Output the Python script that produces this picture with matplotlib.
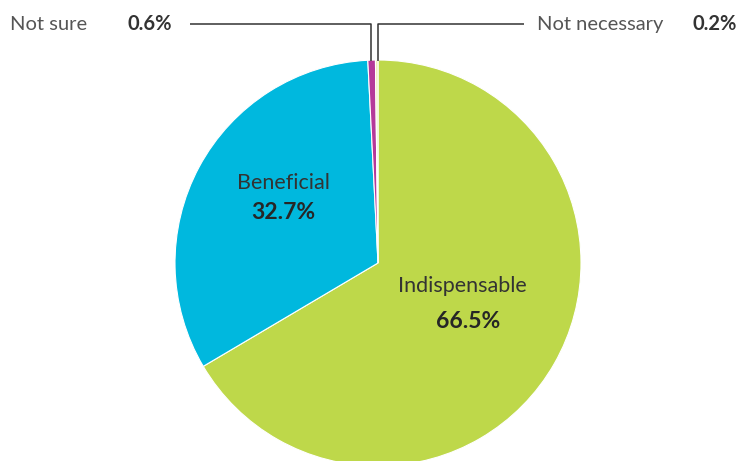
import matplotlib.pyplot as plt

labels = ["Indispensable", "Beneficial", "Not sure", "Not necessary"]
shares = [66.5, 32.7, 0.6, 0.2]
colors = ["#bed84a", "#00b8de", "#b5399a", "#f3ebb8"]

plt.rcParams["font.family"] = ["Lato", "DejaVu Sans"]

W, H = 739, 461
fig = plt.figure(figsize=(W / 100, H / 100), dpi=100)
ax = fig.add_axes([0, 0, 1, 1])

cx, cy, r = 378, H - 263, 203
ax.pie(shares, colors=colors, startangle=90, counterclock=False,
       center=(cx, cy), radius=r, frame=True,
       wedgeprops=dict(edgecolor="white", linewidth=0.8))
ax.set_xlim(0, W)
ax.set_ylim(0, H)
ax.axis("off")

# labels inside the two big slices
name_kw = dict(fontsize=15.5, fontweight="normal", color="#333333", ha="center", va="center")
val_kw = dict(fontsize=16.5, fontweight="bold", color="#262626", ha="center", va="center")
ax.text(283, H - 183, labels[1], **name_kw)
ax.text(283, H - 212, f"{shares[1]}%", **val_kw)
ax.text(462, H - 286, labels[0], **name_kw)
ax.text(468, H - 322, f"{shares[0]}%", **val_kw)

# small slices get leader lines out to the top
top = H - 24
line_kw = dict(color="#333333", linewidth=1.1, solid_capstyle="butt")
ax.plot([190, 371, 371], [top, top, H - 61], **line_kw)
ax.plot([524, 377.5, 377.5], [top, top, H - 61], **line_kw)

ax.text(10, top, labels[2], fontsize=14.5, fontweight="normal", color="#555555", va="center")
ax.text(128, top, f"{shares[2]}%", fontsize=14.5, fontweight="bold", color="#333333", va="center")
ax.text(537, top, labels[3], fontsize=14.5, fontweight="normal", color="#555555", va="center")
ax.text(737, top, f"{shares[3]}%", fontsize=14.5, fontweight="bold", color="#333333",
        va="center", ha="right")

fig.savefig("out.png", dpi=100)
